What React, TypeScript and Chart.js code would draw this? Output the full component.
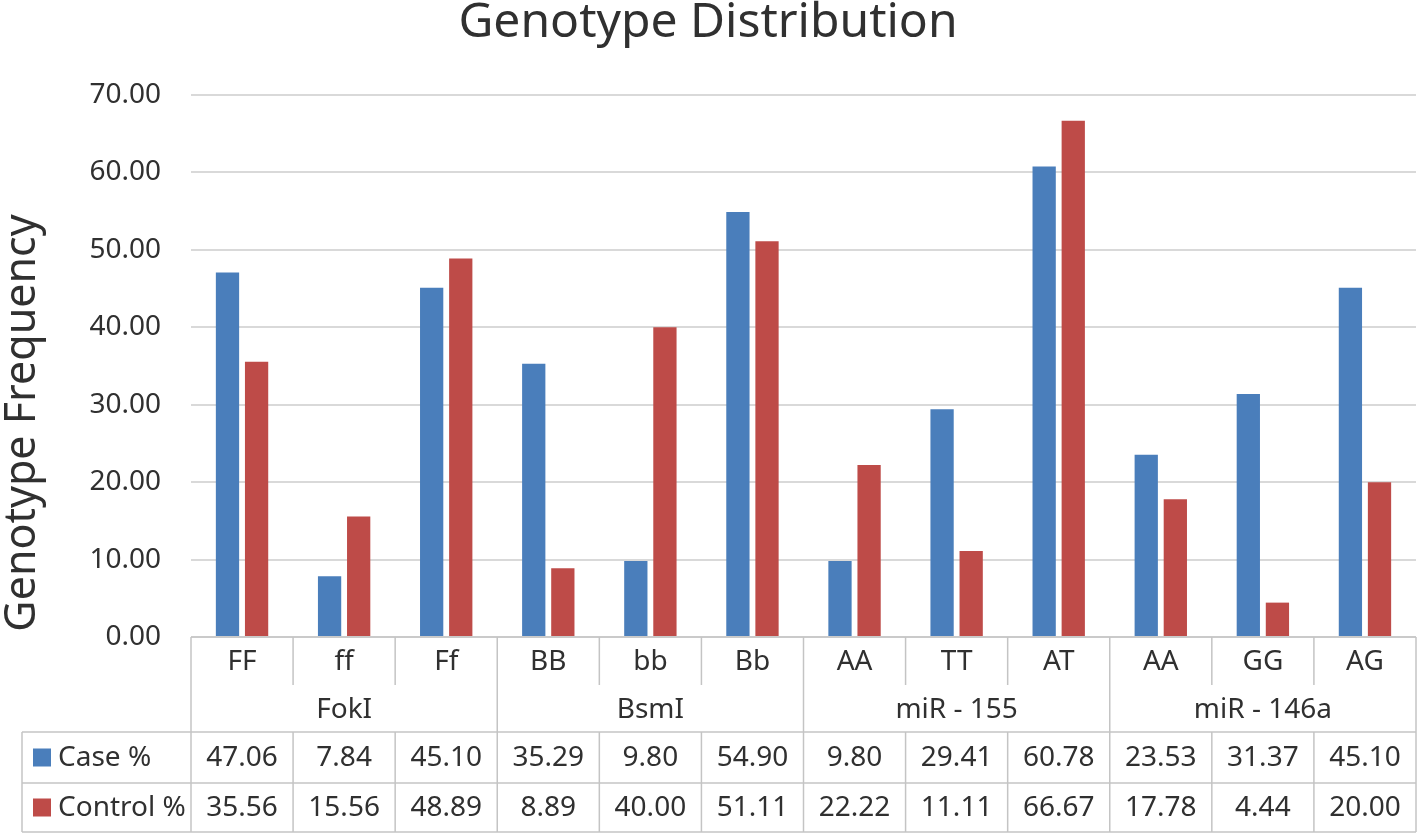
import React, { useEffect, useRef } from "react";
import { Chart, registerables } from "chart.js";

Chart.register(...registerables);

const genotypes = ["FF", "ff", "Ff", "BB", "bb", "Bb", "AA", "TT", "AT", "AA", "GG", "AG"];
const groups = ["FokI", "BsmI", "miR - 155", "miR - 146a"];
const groupSize = 3;
const caseValues = [47.06, 7.84, 45.1, 35.29, 9.8, 54.9, 9.8, 29.41, 60.78, 23.53, 31.37, 45.1];
const controlValues = [35.56, 15.56, 48.89, 8.89, 40.0, 51.11, 22.22, 11.11, 66.67, 17.78, 4.44, 20.0];
const seriesNames = ["Case %", "Control %"];
const seriesColors = ["#4a7ebb", "#be4b48"];
const chartTitle = "Genotype Distribution";
const yTitle = "Genotype Frequency";

const FONT = "'Noto Sans', sans-serif";
const TEXT = "#303030";
const LINE = "#c4c4c4";

const tablePlugin = {
  id: "dataTable",
  afterDraw(chart: any) {
    const ctx = chart.ctx as CanvasRenderingContext2D;
    const x = chart.scales.x;
    const area = chart.chartArea;
    const n = genotypes.length;
    const w = (area.right - area.left) / n;
    const top = area.bottom;
    const subBottom = top + 48;
    const headBottom = top + 95;
    const row1Bottom = headBottom + 51;
    const row2Bottom = chart.height - 1;
    const tableLeft = 22;

    ctx.save();
    ctx.strokeStyle = LINE;
    ctx.lineWidth = 1.5;
    const line = (x1: number, y1: number, x2: number, y2: number) => {
      ctx.beginPath();
      ctx.moveTo(x1, y1);
      ctx.lineTo(x2, y2);
      ctx.stroke();
    };
    // horizontal lines
    line(area.left, top, area.right, top);
    line(tableLeft, headBottom, area.right, headBottom);
    line(tableLeft, row1Bottom, area.right, row1Bottom);
    line(tableLeft, row2Bottom, area.right, row2Bottom);
    // vertical lines
    line(tableLeft, headBottom, tableLeft, row2Bottom);
    for (let i = 0; i <= n; i++) {
      const bx = area.left + i * w;
      if (i % groupSize === 0) {
        line(bx, top, bx, row2Bottom);
      } else {
        line(bx, top, bx, subBottom);
        line(bx, headBottom, bx, row2Bottom);
      }
    }

    ctx.fillStyle = TEXT;
    ctx.font = `28px ${FONT}`;
    ctx.textAlign = "center";
    ctx.textBaseline = "middle";
    // genotype labels
    genotypes.forEach((g, i) => {
      ctx.fillText(g, x.getPixelForValue(i), top + 25);
    });
    // group labels
    groups.forEach((g, gi) => {
      const cx = area.left + (gi * groupSize + groupSize / 2) * w;
      ctx.fillText(g, cx, top + 73);
    });
    // values
    const rows = [caseValues, controlValues];
    const rowCenters = [(headBottom + row1Bottom) / 2, (row1Bottom + row2Bottom) / 2];
    rows.forEach((vals, r) => {
      vals.forEach((v, i) => {
        ctx.fillText(v.toFixed(2), x.getPixelForValue(i), rowCenters[r] + 1);
      });
    });
    // legend keys
    ctx.textAlign = "left";
    seriesNames.forEach((name, r) => {
      ctx.fillStyle = seriesColors[r];
      ctx.fillRect(33, rowCenters[r] - 9, 18, 18);
      ctx.fillStyle = TEXT;
      ctx.fillText(name, 58, rowCenters[r] + 1);
    });

    // y axis title
    ctx.save();
    ctx.translate(23, 423);
    ctx.rotate(-Math.PI / 2);
    ctx.textAlign = "center";
    ctx.textBaseline = "middle";
    ctx.font = `43px ${FONT}`;
    ctx.fillStyle = TEXT;
    ctx.fillText(yTitle, 0, 0);
    ctx.restore();

    ctx.restore();
  },
};

export default function App() {
  const ref = useRef<HTMLCanvasElement>(null);
  useEffect(() => {
    if (!ref.current) return;
    Chart.defaults.font.family = FONT;
    const chart = new Chart(ref.current, {
      type: "bar",
      data: {
        labels: genotypes,
        datasets: [
          {
            label: seriesNames[0],
            data: caseValues,
            backgroundColor: seriesColors[0],
            categoryPercentage: 0.57,
            barPercentage: 0.8,
          },
          {
            label: seriesNames[1],
            data: controlValues,
            backgroundColor: seriesColors[1],
            categoryPercentage: 0.57,
            barPercentage: 0.8,
          },
        ],
      },
      options: {
        responsive: false,
        animation: false,
        devicePixelRatio: 1,
        layout: { padding: { left: 0, right: 2, top: 0, bottom: 196 } },
        plugins: {
          legend: { display: false },
          tooltip: { enabled: false },
          title: {
            display: true,
            text: chartTitle,
            color: TEXT,
            font: { size: 48, weight: "normal", family: FONT, lineHeight: 1.2 },
            padding: { top: -5, bottom: 42.4 },
          },
        },
        scales: {
          x: {
            ticks: { display: false },
            grid: { display: false },
            border: { display: false },
            afterFit: (s: any) => {
              s.height = 0;
            },
          },
          y: {
            min: 0,
            max: 70,
            ticks: {
              stepSize: 10,
              padding: 30,
              color: TEXT,
              font: { size: 28, family: FONT },
              callback: (v: any) => Number(v).toFixed(2),
            },
            grid: { color: "#d9d9d9", lineWidth: 2, drawTicks: false },
            border: { display: false },
            afterFit: (s: any) => {
              s.width = 191;
            },
          },
        },
      },
      plugins: [tablePlugin],
    });
    return () => chart.destroy();
  }, []);
  return (
    <div style={{ position: "fixed", left: 0, top: 0, width: 1418, height: 833, background: "#fff" }}>
      <canvas ref={ref} width={1418} height={833} />
    </div>
  );
}
